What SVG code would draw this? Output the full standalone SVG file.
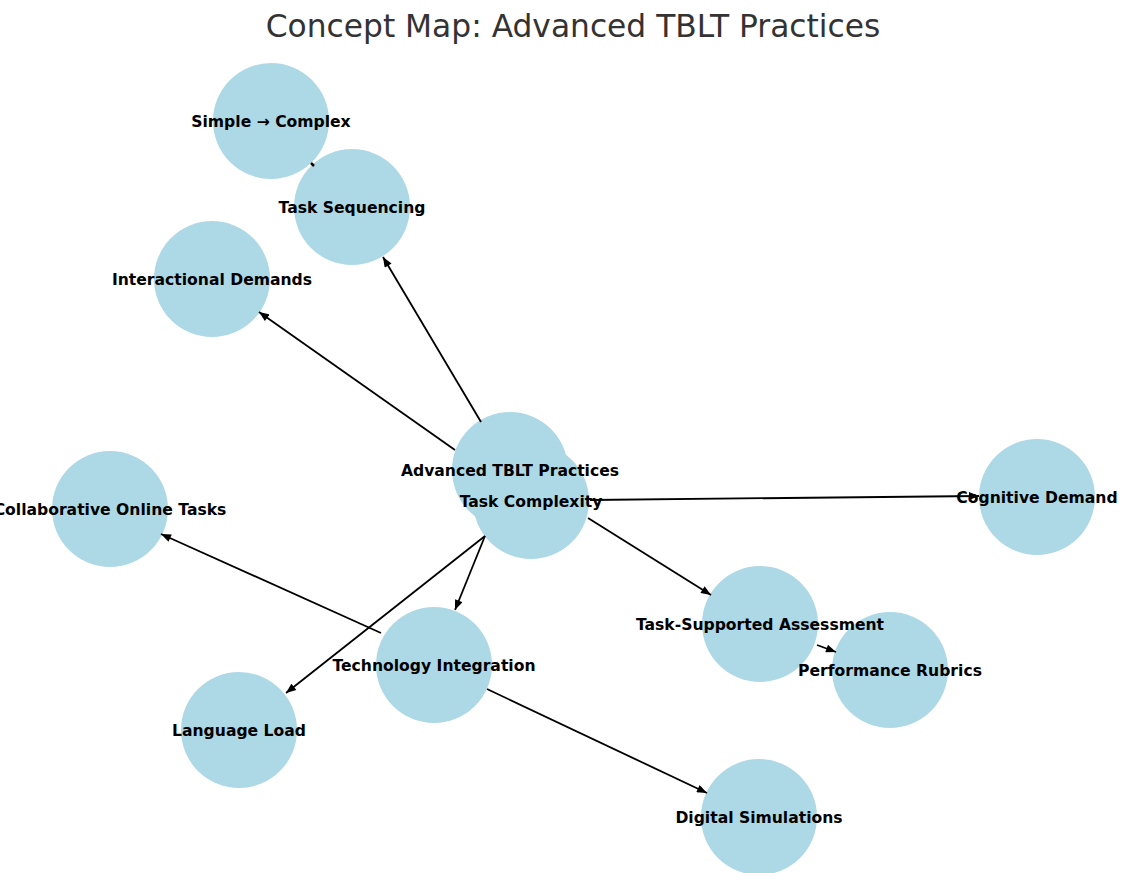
<svg xmlns="http://www.w3.org/2000/svg" width="1123" height="873" viewBox="0 0 1123 873">
<defs>
<marker id="ah" viewBox="0 0 10 8" refX="10" refY="4" markerWidth="11" markerHeight="8" markerUnits="userSpaceOnUse" orient="auto">
<path d="M0,0 L10,4 L0,8 Z" fill="#000"/>
</marker>
<style>
.n{fill:#add8e6}
.l{font-family:"DejaVu Sans",sans-serif;font-weight:bold;font-size:15.6px;fill:#000;text-anchor:middle}
.e{stroke:#000;stroke-width:1.8;fill:none;marker-end:url(#ah)}
.t{font-family:"DejaVu Sans",sans-serif;font-size:31.3px;fill:#333;text-anchor:middle}
</style>
</defs>
<rect width="1123" height="873" fill="#fff"/>
<text class="t" x="573" y="37">Concept Map: Advanced TBLT Practices</text>
<g id="nodes">
<g id="node-simple-complex"><circle class="n" cx="271" cy="121" r="58"/></g>
<g id="node-task-sequencing"><circle class="n" cx="352" cy="207" r="58"/></g>
<g id="node-interactional-demands"><circle class="n" cx="212" cy="279" r="58"/></g>
<g id="node-advanced-tblt"><circle class="n" cx="510" cy="470" r="58"/></g>
<g id="node-task-complexity"><circle class="n" cx="531" cy="501" r="58"/></g>
<g id="node-cognitive-demand"><circle class="n" cx="1037" cy="497" r="58"/></g>
<g id="node-collaborative-online"><circle class="n" cx="110" cy="509" r="58"/></g>
<g id="node-task-supported-assessment"><circle class="n" cx="760" cy="624" r="58"/></g>
<g id="node-performance-rubrics"><circle class="n" cx="890" cy="670" r="58"/></g>
<g id="node-technology-integration"><circle class="n" cx="434" cy="665" r="58"/></g>
<g id="node-language-load"><circle class="n" cx="239" cy="730" r="58"/></g>
<g id="node-digital-simulations"><circle class="n" cx="759" cy="817" r="58"/></g>
</g>
<g id="labels">
<text class="l" x="271" y="126.5">Simple → Complex</text>
<text class="l" x="352" y="212.5">Task Sequencing</text>
<text class="l" x="212" y="284.5">Interactional Demands</text>
<text class="l" x="510" y="475.5">Advanced TBLT Practices</text>
<text class="l" x="531" y="506.5">Task Complexity</text>
<text class="l" x="1037" y="502.5">Cognitive Demand</text>
<text class="l" x="110" y="514.5">Collaborative Online Tasks</text>
<text class="l" x="760" y="629.5">Task-Supported Assessment</text>
<text class="l" x="890" y="675.5">Performance Rubrics</text>
<text class="l" x="434" y="670.5">Technology Integration</text>
<text class="l" x="239" y="735.5">Language Load</text>
<text class="l" x="759" y="822.5">Digital Simulations</text>
</g>
<g id="connectors">
<path class="e" d="M481,422 L383,257"/>
<path class="e" d="M455,450 L259,312"/>
<path class="e" d="M590,500 L979,496"/>
<path class="e" d="M588,518 L711,595"/>
<path class="e" d="M485,536 L286,693"/>
<path class="e" d="M485,536 L455,610"/>
<path class="e" d="M381,633 L161,534"/>
<path class="e" d="M487,689 L707,793"/>
<path class="e" d="M817,645 L836,652"/>
<path d="M314,166 L311,163" stroke="#000" stroke-width="2.5"/>
</g>
</svg>
